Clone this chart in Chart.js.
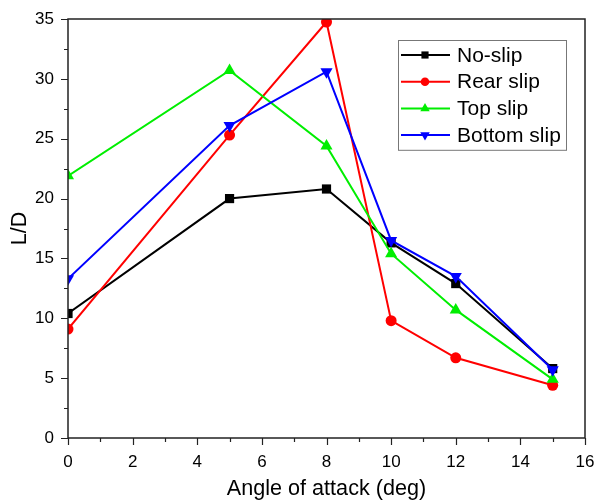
<!DOCTYPE html>
<html>
<head>
<meta charset="utf-8">
<script src="https://cdn.jsdelivr.net/npm/chart.js@4"></script>
<style>
  html, body { margin: 0; padding: 0; background: #fff; }
</style>
</head>
<body>
<canvas id="chart" width="596" height="502"></canvas>
<script>
const angles = [0, 5, 8, 10, 12, 15];
const noSlip = [10.4, 20.0, 20.8, 16.3, 12.9, 5.8];
const rearSlip = [9.1, 25.3, 34.75, 9.8, 6.7, 4.4];
const topSlip = [21.9, 30.7, 24.4, 15.4, 10.7, 4.9];
const bottomSlip = [13.3, 26.1, 30.6, 16.5, 13.5, 5.7];
const seriesNames = ["No-slip", "Rear slip", "Top slip", "Bottom slip"];

const FONT = "'Liberation Sans', Arial, sans-serif";

function pts(ys) {
    return angles.map((x, i) => ({ x: x, y: ys[i] }));
}

function series(label, ys, color, style, radius, rotation, order) {
    return {
        label: label,
        data: pts(ys),
        borderColor: color,
        backgroundColor: color,
        borderWidth: 2,
        pointStyle: style,
        pointRadius: radius,
        pointRotation: rotation,
        pointBorderWidth: 0,
        pointBackgroundColor: color,
        tension: 0,
        order: order
    };
}

const datasets = [
    series(seriesNames[0], noSlip, "#000000", "rect", 6.5, 0, 4),
    series(seriesNames[1], rearSlip, "#ff0000", "circle", 5.5, 0, 3),
    series(seriesNames[2], topSlip, "#00ee00", "triangle", 7, 0, 2),
    series(seriesNames[3], bottomSlip, "#0000ff", "triangle", 7, 180, 1)
];

// frame, outward major/minor ticks and the boxed legend inside the plot
const framePlugin = {
    id: "frame",
    afterDraw(chart) {
        const ctx = chart.ctx;
        const a = chart.chartArea;
        const xs = chart.scales.x, ys = chart.scales.y;
        ctx.save();
        ctx.strokeStyle = "#222";
        ctx.lineWidth = 1.5;
        ctx.strokeRect(a.left, a.top, a.right - a.left, a.bottom - a.top);
        ctx.lineWidth = 1.2;
        ctx.beginPath();
        for (let v = 0; v <= 16; v += 1) {
            const px = Math.round(xs.getPixelForValue(v)) + 0.5;
            const len = v % 2 === 0 ? 7 : 4;
            ctx.moveTo(px, a.bottom);
            ctx.lineTo(px, a.bottom + len);
        }
        for (let v = 0; v <= 35; v += 2.5) {
            const py = Math.round(ys.getPixelForValue(v)) + 0.5;
            const len = v % 5 === 0 ? 7 : 4;
            ctx.moveTo(a.left, py);
            ctx.lineTo(a.left - len, py);
        }
        ctx.stroke();

        // legend
        const bw = 168, rowH = 26.7;
        const bx = a.right - 19 - bw, by = a.top + 21;
        const bh = rowH * datasets.length + 3;
        ctx.strokeStyle = "#777";
        ctx.lineWidth = 1;
        ctx.strokeRect(bx + 0.5, by + 0.5, bw, bh);
        ctx.font = "21px " + FONT;
        ctx.textBaseline = "middle";
        ctx.textAlign = "left";
        datasets.forEach((d, i) => {
            const cy = by + 15 + i * rowH;
            ctx.strokeStyle = d.borderColor;
            ctx.fillStyle = d.borderColor;
            ctx.lineWidth = 2;
            ctx.beginPath();
            ctx.moveTo(bx + 3, cy);
            ctx.lineTo(bx + 52, cy);
            ctx.stroke();
            Chart.helpers.drawPoint(ctx, {
                pointStyle: d.pointStyle,
                rotation: d.pointRotation,
                radius: d.pointRadius * 0.78,
                borderWidth: 0
            }, bx + 27, cy);
            ctx.fillStyle = "#000";
            ctx.fillText(d.label, bx + 59, cy + 1);
        });
        ctx.restore();
    }
};

new Chart(document.getElementById("chart").getContext("2d"), {
    type: "line",
    data: { datasets: datasets },
    options: {
        responsive: false,
        animation: false,
        layout: { padding: { top: 19, right: 11, left: 0, bottom: 0 } },
        plugins: { legend: { display: false }, tooltip: { enabled: false } },
        scales: {
            x: {
                type: "linear",
                min: 0,
                max: 16,
                afterFit(scale) {
                    scale.height = 64;
                    scale.paddingLeft = 0;
                    scale.paddingRight = 0;
                },
                grid: { display: false, drawTicks: false },
                border: { display: false },
                ticks: {
                    stepSize: 2,
                    padding: 14,
                    color: "#000",
                    font: { family: FONT, size: 17 }
                },
                title: {
                    display: true,
                    text: "Angle of attack (deg)",
                    color: "#000",
                    font: { family: FONT, size: 21.6 },
                    padding: { top: 0, bottom: 0 }
                }
            },
            y: {
                type: "linear",
                min: 0,
                max: 35,
                afterFit(scale) {
                    scale.width = 68;
                    scale.paddingTop = 0;
                    scale.paddingBottom = 0;
                },
                grid: { display: false, drawTicks: false },
                border: { display: false },
                ticks: {
                    stepSize: 5,
                    padding: 14,
                    color: "#000",
                    font: { family: FONT, size: 17 }
                },
                title: {
                    display: true,
                    text: "L/D",
                    color: "#000",
                    font: { family: FONT, size: 21.6 },
                    padding: { top: 7, bottom: 0 }
                }
            }
        }
    },
    plugins: [framePlugin]
});
</script>
</body>
</html>
